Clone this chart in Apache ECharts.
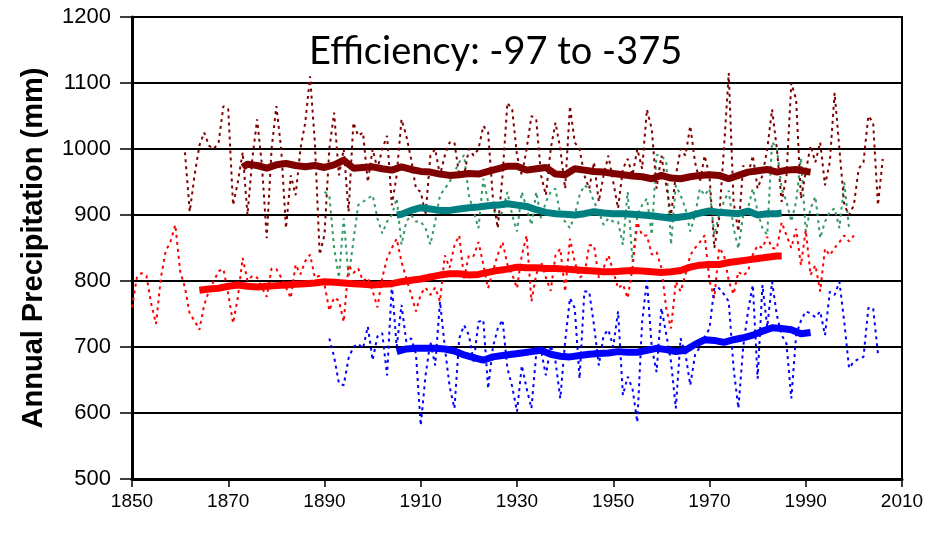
<!DOCTYPE html>
<html>
<head>
<meta charset="utf-8">
<script src="https://cdn.jsdelivr.net/npm/echarts@6/dist/echarts.min.js"></script>
<style>
  html, body { margin: 0; padding: 0; background: #fff; }
  #chart { width: 942px; height: 534px; }
</style>
</head>
<body>
<div id="chart"></div>
<script>
// annual values, first year given separately
const darkRedStart = 1861;
const darkRedAnnual = [
  995, 905, 960, 1005, 1025, 1005, 1000, 1010, 1065, 1060,
  915, 950, 995, 900, 985, 1045, 975, 865, 1000, 1065,
  1000, 880, 960, 930, 1000, 1040, 1110, 1010, 840, 870,
  1000, 1055, 960, 1000, 905, 1040, 1020, 1025, 950, 1000,
  970, 1000, 1020, 915, 960, 1045, 1020, 985, 940, 935,
  900, 990, 1000, 960, 990, 1010, 1010, 960, 960, 1000,
  990, 1000, 1035, 1025, 925, 880, 960, 1070, 1060, 990,
  960, 1000, 1050, 1045, 960, 930, 1000, 1040, 1000, 940,
  1065, 1010, 1000, 960, 940, 980, 920, 960, 990, 950,
  910, 970, 985, 960, 1000, 970, 1060, 1030, 940, 990,
  945, 900, 960, 1000, 990, 1035, 980, 950, 990, 960,
  850, 895, 1000, 1115, 920, 875, 975, 960, 990, 940,
  960, 1000, 1060, 1000, 920, 960, 1100, 1075, 925, 965,
  1005, 980, 1010, 945, 980, 1085, 1000, 915, 900, 915,
  970, 980, 1050, 1040, 915, 985
];

const tealStart = 1890;
const tealAnnual = [
  935, 930, 850, 805, 895, 805, 860, 915, 920, 925,
  930, 895, 872, 890, 900, 925, 855, 890, 900, 890,
  890, 880, 855, 890, 930, 940, 950, 965, 980, 991,
  930, 905, 880, 955, 920, 910, 895, 905, 935, 900,
  875, 935, 910, 885, 935, 895, 920, 935, 940, 900,
  890, 880, 900, 930, 945, 940, 920, 905, 885, 895,
  890, 890, 855, 935, 829, 900, 915, 925, 870, 991,
  990, 981, 855, 945, 930, 910, 875, 900, 940, 930,
  940, 870, 900, 920, 937, 880, 849, 900, 910, 940,
  905, 880, 870, 1011, 1001, 940, 920, 890, 920, 986,
  875, 910, 928, 865, 890, 905, 910, 880, 950, 880
];

const redStart = 1850;
const redAnnual = [
  760, 805, 812, 808, 765, 735, 805, 845, 860, 885,
  815, 790, 750, 740, 726, 764, 785, 800, 815, 818,
  780, 736, 775, 835, 800, 808, 805, 790, 776, 819,
  818, 805, 790, 774, 825, 810, 830, 840, 805, 808,
  795, 755, 775, 770, 738, 824, 812, 819, 800, 805,
  785, 760, 805, 834, 850, 864, 829, 804, 780, 754,
  780, 790, 779, 790, 769, 839, 820, 854, 869, 804,
  839, 838, 859, 825, 789, 815, 840, 859, 825, 810,
  789, 839, 869, 769, 810, 829, 805, 785, 839, 849,
  784, 864, 829, 805, 810, 854, 854, 805, 820, 839,
  815, 789, 795, 774, 820, 889, 869, 869, 840, 844,
  820, 759, 728, 799, 784, 810, 839, 850, 859, 869,
  800, 774, 850, 840, 800, 780, 814, 808, 815, 840,
  854, 850, 867, 850, 849, 889, 869, 850, 879, 824,
  877, 809, 824, 784, 849, 839, 850, 859, 869, 860,
  869
];

const blueStart = 1891;
const blueAnnual = [
  713, 685, 645, 642, 683, 700, 705, 698, 731, 680,
  716, 721, 657, 794, 700, 764, 708, 713, 690, 581,
  657, 708, 672, 769, 700, 640, 607, 713, 733, 718,
  678, 738, 741, 637, 700, 728, 741, 668, 640, 602,
  672, 637, 607, 690, 695, 657, 703, 678, 622, 708,
  774, 759, 652, 784, 784, 733, 672, 718, 726, 700,
  754, 627, 655, 637, 586, 738, 801, 700, 662, 759,
  720, 678, 607, 713, 690, 642, 688, 700, 715, 728,
  790, 789, 780, 769, 668, 607, 700, 754, 794, 652,
  794, 730, 799, 748, 718, 705, 622, 718, 740, 754,
  751, 745, 754, 718, 784, 779, 799, 738, 668, 678,
  682, 685, 759, 759, 690
];

// smoothed curves [year, mm]
const darkRedSmooth = [
  [1873,972],[1874,977],[1876,975],[1878,971],[1880,976],[1882,978],[1884,975],[1886,973],
  [1888,975],[1890,972],[1892,976],[1894,983],[1896,971],[1898,972],[1900,973],[1902,970],
  [1904,968],[1906,973],[1908,969],[1910,966],[1912,965],[1914,962],[1916,960],[1918,961],
  [1920,963],[1922,962],[1924,966],[1926,970],[1928,974],[1930,974],[1932,968],[1934,970],
  [1936,972],[1938,962],[1940,961],[1942,970],[1944,968],[1946,966],[1948,965],[1950,963],
  [1952,961],[1954,959],[1956,958],[1958,955],[1960,960],[1962,956],[1964,955],[1966,958],
  [1968,960],[1970,961],[1972,960],[1974,955],[1976,960],[1978,965],[1980,967],[1982,969],
  [1984,965],[1986,968],[1988,969],[1990,966],[1991,965]
];
const tealSmooth = [
  [1905,900],[1906,901],[1908,907],[1910,911],[1912,909],[1914,907],[1916,907],[1918,909],
  [1920,911],[1922,912],[1924,914],[1926,915],[1928,917],[1930,915],[1932,913],[1934,908],
  [1936,904],[1938,902],[1940,901],[1942,900],[1944,902],[1946,905],[1948,903],[1950,902],
  [1952,902],[1954,901],[1956,900],[1958,899],[1960,897],[1962,895],[1964,897],[1966,899],
  [1968,903],[1970,906],[1972,904],[1974,903],[1976,902],[1978,906],[1980,900],[1982,902],
  [1984,902],[1985,903]
];
const redSmooth = [
  [1864,786],[1866,788],[1868,789],[1870,792],[1872,794],[1874,792],[1876,791],[1878,792],
  [1880,793],[1882,794],[1884,795],[1886,796],[1888,797],[1890,799],[1892,798],[1894,797],
  [1896,796],[1898,795],[1900,794],[1902,795],[1904,796],[1906,799],[1908,801],[1910,803],
  [1912,806],[1914,809],[1916,811],[1918,811],[1920,809],[1922,810],[1924,813],[1926,816],
  [1928,818],[1930,821],[1932,820],[1934,820],[1936,819],[1938,819],[1940,818],[1942,817],
  [1944,816],[1946,815],[1948,814],[1950,814],[1952,815],[1954,816],[1956,815],[1958,814],
  [1960,813],[1962,814],[1964,816],[1966,821],[1968,824],[1970,825],[1972,825],[1974,828],
  [1976,830],[1978,832],[1980,834],[1982,836],[1984,838],[1985,838]
];
const blueSmooth = [
  [1905,693],[1907,697],[1909,698],[1911,698],[1913,698],[1915,697],[1917,694],[1919,688],
  [1921,684],[1923,680],[1925,685],[1927,687],[1929,689],[1931,691],[1933,693],[1935,695],
  [1937,689],[1939,686],[1941,685],[1943,687],[1945,689],[1947,690],[1949,691],[1951,693],
  [1953,692],[1955,692],[1957,695],[1959,698],[1961,696],[1963,693],[1965,695],[1967,704],
  [1969,711],[1971,710],[1973,707],[1975,711],[1977,714],[1979,718],[1981,724],[1983,729],
  [1985,728],[1987,726],[1989,720],[1991,722]
];

const toPairs = (start, vals) => vals.map((v, i) => [start + i, v]);

const dotted = (data, color) => ({
  type: 'line',
  data: data,
  showSymbol: false,
  silent: true,
  lineStyle: { color: color, width: 2, type: [3, 4] },
  z: 2
});
const thick = (data, color) => ({
  type: 'line',
  data: data,
  showSymbol: false,
  silent: true,
  lineStyle: { color: color, width: 7 },
  z: 3
});

const chart = echarts.init(document.getElementById('chart'));
chart.setOption({
  animation: false,
  backgroundColor: '#fff',
  title: {
    text: 'Efficiency: -97 to -375',
    left: 304,
    top: 28,
    textStyle: { fontFamily: 'Lato', fontSize: 38, fontWeight: 'normal', color: '#000' }
  },
  grid: {
    left: 132, right: 40, top: 17, bottom: 55,
    show: true, borderColor: '#000', borderWidth: 2, backgroundColor: 'transparent'
  },
  xAxis: {
    type: 'value',
    min: 1850, max: 2010, interval: 20,
    axisLine: { lineStyle: { color: '#000', width: 3 } },
    axisTick: { show: true, length: 8, lineStyle: { color: '#000', width: 1.5 } },
    axisLabel: {
      color: '#000', fontSize: 19, margin: 13,
      fontFamily: "'Liberation Sans Narrow', 'Arial Narrow', Arial, 'Liberation Sans', sans-serif",
      formatter: v => String(v)
    },
    splitLine: { show: false }
  },
  yAxis: {
    type: 'value',
    min: 500, max: 1200, interval: 100,
    name: 'Annual Precipitation (mm)',
    nameLocation: 'middle',
    nameGap: 84,
    nameTextStyle: { fontFamily: "Arial, 'Liberation Sans', sans-serif", fontSize: 29, fontWeight: 'bold', color: '#000' },
    axisLine: { show: true, lineStyle: { color: '#000', width: 3 } },
    axisTick: { show: true, length: 12, lineStyle: { color: '#000', width: 1.5 } },
    axisLabel: {
      color: '#000', fontSize: 22, margin: 21,
      fontFamily: "Arial, 'Liberation Sans', sans-serif",
      formatter: v => String(v)
    },
    splitLine: { show: true, lineStyle: { color: '#000', width: 2 } }
  },
  series: [
    dotted(toPairs(tealStart, tealAnnual), '#339966'),
    dotted(toPairs(redStart, redAnnual), '#ff0000'),
    dotted(toPairs(blueStart, blueAnnual), '#0000ff'),
    dotted(toPairs(darkRedStart, darkRedAnnual), '#800000'),
    thick(darkRedSmooth, '#800000'),
    thick(tealSmooth, '#008080'),
    thick(redSmooth, '#ff0000'),
    thick(blueSmooth, '#0000ff')
  ]
});
</script>
</body>
</html>
